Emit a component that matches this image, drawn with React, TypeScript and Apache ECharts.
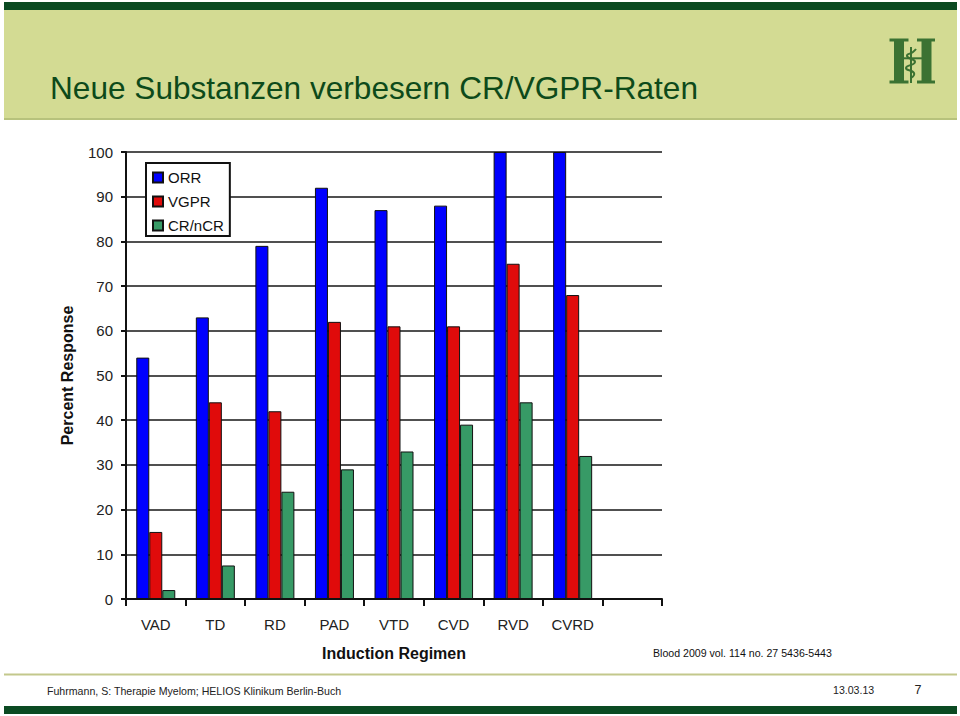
import React, { useEffect, useRef } from "react";
import * as echarts from "echarts";

const categories = ["VAD", "TD", "RD", "PAD", "VTD", "CVD", "RVD", "CVRD", ""];
const orr = [54, 63, 79, 92, 87, 88, 100, 100, null];
const vgpr = [15, 44, 42, 62, 61, 61, 75, 68, null];
const crncr = [2, 7.5, 24, 29, 33, 39, 44, 32, null];
const seriesNames = ["ORR", "VGPR", "CR/nCR"];
const yTicks = { min: 0, max: 100, interval: 10 };

const titleText = "Neue Substanzen verbesern CR/VGPR-Raten";
const citation = "Blood 2009 vol. 114 no. 27 5436-5443";
const footerLeft = "Fuhrmann, S: Therapie Myelom; HELIOS Klinikum Berlin-Buch";
const footerDate = "13.03.13";
const pageNo = "7";

const FONT = "'Liberation Sans', Arial, sans-serif";

export default function App() {
  const ref = useRef<HTMLDivElement>(null);
  useEffect(() => {
    if (!ref.current) return;
    const chart = echarts.init(ref.current, null, { renderer: "svg" });
    const dark = "#0b4a22";
    const logo = "#3b7232";
    const barBorder = { borderColor: "#111", borderWidth: 1 };
    chart.setOption({
      animation: false,
      backgroundColor: "#ffffff",
      textStyle: { fontFamily: FONT },
      grid: { left: 126, right: 298, top: 152, bottom: 117 },
      legend: {
        orient: "vertical",
        left: 146,
        top: 163,
        padding: [7, 6, 3, 6],
        itemWidth: 10,
        itemHeight: 10,
        itemGap: 9,
        icon: "rect",
        backgroundColor: "#ffffff",
        borderColor: "#111",
        borderWidth: 2,
        borderRadius: 0,
        textStyle: { fontSize: 15, color: "#111", fontFamily: FONT, lineHeight: 15 },
        data: seriesNames,
      },
      xAxis: {
        type: "category",
        data: categories,
        boundaryGap: true,
        axisLine: { lineStyle: { color: "#111", width: 2 } },
        axisTick: { show: true, interval: 0, length: 7, lineStyle: { color: "#111", width: 2 } },
        axisLabel: { interval: 0, fontSize: 15, color: "#222", margin: 18, fontFamily: FONT },
        name: "Induction Regimen",
        nameLocation: "middle",
        nameGap: 46,
        nameTextStyle: { fontSize: 16, fontWeight: "bold", color: "#111", fontFamily: FONT },
      },
      yAxis: {
        type: "value",
        min: yTicks.min,
        max: yTicks.max,
        interval: yTicks.interval,
        axisLine: { show: true, lineStyle: { color: "#111", width: 2 } },
        axisTick: { show: true, length: 5, lineStyle: { color: "#111", width: 2 } },
        axisLabel: { fontSize: 15, color: "#222", margin: 13, fontFamily: FONT },
        splitLine: { show: true, lineStyle: { color: "#161616", width: 1.6 } },
        name: "Percent Response",
        nameLocation: "middle",
        nameGap: 51,
        nameRotate: 90,
        nameTextStyle: { fontSize: 16, fontWeight: "bold", color: "#111", fontFamily: FONT },
      },
      series: [
        { name: seriesNames[0], type: "bar", data: orr, barWidth: 13, barGap: "0%", itemStyle: { color: "#0000ff", ...barBorder } },
        { name: seriesNames[1], type: "bar", data: vgpr, barWidth: 13, barGap: "0%", itemStyle: { color: "#e00b0b", ...barBorder } },
        { name: seriesNames[2], type: "bar", data: crncr, barWidth: 13, barGap: "0%", itemStyle: { color: "#379a66", ...barBorder } },
      ],
      graphic: [
        { type: "rect", shape: { x: 4, y: 2, width: 953, height: 8 }, style: { fill: dark }, silent: true },
        { type: "rect", shape: { x: 4, y: 10, width: 953, height: 108 }, style: { fill: "#d3db93" }, silent: true },
        { type: "rect", shape: { x: 4, y: 118, width: 953, height: 2 }, style: { fill: "#b7c27c" }, silent: true },
        {
          type: "text", x: 50, y: 88,
          style: { text: titleText, fill: "#0d4a1a", font: `31.6px ${FONT}`, textVerticalAlign: "middle", textAlign: "left" },
          silent: true,
        },
        // logo
        { type: "rect", shape: { x: 894, y: 39, width: 10, height: 44 }, style: { fill: logo }, silent: true },
        { type: "rect", shape: { x: 889.5, y: 38.5, width: 19, height: 3 }, style: { fill: logo }, silent: true },
        { type: "rect", shape: { x: 889.5, y: 80.5, width: 19, height: 3 }, style: { fill: logo }, silent: true },
        { type: "rect", shape: { x: 921.5, y: 39, width: 10, height: 44 }, style: { fill: logo }, silent: true },
        { type: "rect", shape: { x: 917, y: 38.5, width: 18, height: 3 }, style: { fill: logo }, silent: true },
        { type: "rect", shape: { x: 917, y: 80.5, width: 18, height: 3 }, style: { fill: logo }, silent: true },
        { type: "rect", shape: { x: 904, y: 57.3, width: 18, height: 2 }, style: { fill: logo }, silent: true },
        { type: "rect", shape: { x: 910, y: 47, width: 2, height: 36 }, style: { fill: logo }, silent: true },
        {
          type: "polyline",
          shape: { points: [[916, 49], [913, 52], [907, 56], [915, 62], [906, 68], [914, 73], [911, 78]], smooth: 0.6 },
          style: { stroke: logo, lineWidth: 2, fill: null },
          silent: true,
        },
        // footer
        {
          type: "text", x: 653, y: 653,
          style: { text: citation, fill: "#111", font: `10.6px ${FONT}`, textVerticalAlign: "middle", textAlign: "left" },
          silent: true,
        },
        { type: "rect", shape: { x: 4, y: 673.5, width: 953, height: 2 }, style: { fill: "#c3c88c" }, silent: true },
        {
          type: "text", x: 47, y: 691,
          style: { text: footerLeft, fill: "#222", font: `10.6px ${FONT}`, textVerticalAlign: "middle", textAlign: "left" },
          silent: true,
        },
        {
          type: "text", x: 833, y: 690,
          style: { text: footerDate, fill: "#222", font: `10.6px ${FONT}`, textVerticalAlign: "middle", textAlign: "left" },
          silent: true,
        },
        {
          type: "text", x: 914.5, y: 689.5,
          style: { text: pageNo, fill: "#222", font: `12.5px ${FONT}`, textVerticalAlign: "middle", textAlign: "left" },
          silent: true,
        },
        { type: "rect", shape: { x: 4, y: 706, width: 953, height: 8 }, style: { fill: dark }, silent: true },
      ],
    });
    return () => chart.dispose();
  }, []);
  return (
    <div
      ref={ref}
      style={{ position: "fixed", left: 0, top: 0, width: 960, height: 716, background: "#fff" }}
    />
  );
}
